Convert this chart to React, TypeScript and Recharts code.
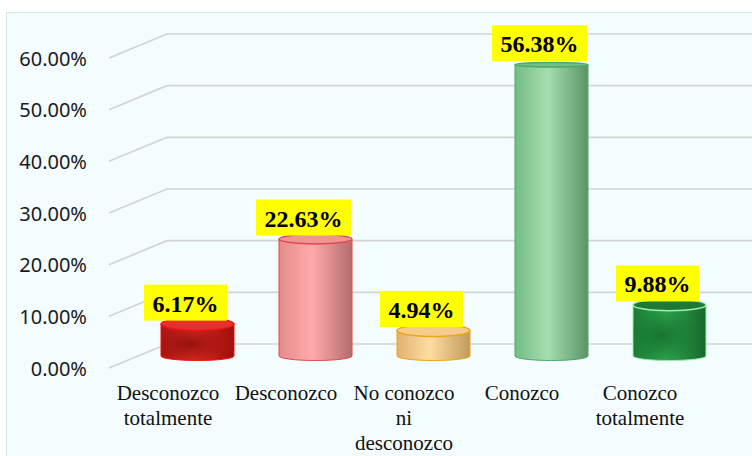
import { BarChart, Bar, XAxis, YAxis, CartesianGrid, LabelList } from 'recharts'

const categories = ['Desconozco\ntotalmente', 'Desconozco', 'No conozco\nni\ndesconozco', 'Conozco', 'Conozco\ntotalmente']
const values = [0.0617, 0.2263, 0.0494, 0.5638, 0.0988]
const yTicks = [0, 0.1, 0.2, 0.3, 0.4, 0.5, 0.6]

// cylinder looks: body gradient left/mid/right, top ellipse, rim
const STYLES = [
  { left: '#B01410', mid: '#D92A22', right: '#A00E0B', top: '#E3322B', stroke: '#F01510', spot: '#8E100C' },
  { left: '#E58A8A', mid: '#FFABAB', right: '#B56C6C', top: '#EE9696', stroke: '#E04A4A', spot: '' },
  { left: '#E2B070', mid: '#FDDDA2', right: '#C39A5A', top: '#F6CB8E', stroke: '#E8A810', spot: '' },
  { left: '#74BC84', mid: '#A6DDB0', right: '#5A9465', top: '#74C084', stroke: '#48AA6A', spot: '' },
  { left: '#1A7C36', mid: '#2FA84E', right: '#16672D', top: '#1B7A36', stroke: '#A6EAB0', spot: '#146E2E' },
]

const data = categories.map((name, i) => ({ name, value: values[i] }))

// offset between the front edge of the floor and the middle where the bars stand
const DX = 29
const DY = 12

const pct = (v: number) => (v * 100).toFixed(2) + '%'

function GridLine(props: any) {
  const { x1, x2, y1 } = props
  return (
    <path
      key={props.key ?? `g-${y1}`}
      d={`M ${x1} ${y1 + DY} L ${x1 + 2 * DX} ${y1 - DY} L ${x2 + 80} ${y1 - DY}`}
      fill="none"
      stroke="#D3D3D3"
      strokeWidth={1.6}
    />
  )
}

function Cylinder(props: any) {
  const { x, y, width, height, index } = props
  const s = STYLES[index % STYLES.length]
  const left = x + DX
  const right = left + width
  const base = y + height
  const rx = width / 2
  const cx = left + rx
  const ryTop = 2 + 4.5 * Math.min(1, Math.max(0, (y - 46) / 310))
  const ryBot = 4.5
  const gid = `cyl-${index}`
  return (
    <g>
      <defs>
        <linearGradient id={`${gid}-b`} x1="0" x2="1" y1="0" y2="0">
          <stop offset="0%" stopColor={s.left} />
          <stop offset="45%" stopColor={s.mid} />
          <stop offset="100%" stopColor={s.right} />
        </linearGradient>
        <radialGradient id={`${gid}-r`} cx="0.4" cy="0.55" r="0.5">
          <stop offset="0%" stopColor={s.spot || '#000'} stopOpacity={s.spot ? 0.9 : 0} />
          <stop offset="100%" stopColor={s.spot || '#000'} stopOpacity={0} />
        </radialGradient>
      </defs>
      <path
        d={`M ${left} ${y} L ${left} ${base} A ${rx} ${ryBot} 0 0 0 ${right} ${base} L ${right} ${y} Z`}
        fill={`url(#${gid}-b)`}
        stroke={s.stroke}
        strokeWidth={1}
      />
      {s.spot && (
        <path
          d={`M ${left} ${y} L ${left} ${base} A ${rx} ${ryBot} 0 0 0 ${right} ${base} L ${right} ${y} Z`}
          fill={`url(#${gid}-r)`}
        />
      )}
      <ellipse cx={cx} cy={y} rx={rx} ry={ryTop} fill={s.top} stroke={s.stroke} strokeWidth={1.5} />
    </g>
  )
}

function ValueLabel(props: any) {
  const { x, y, width, value } = props
  const text = pct(value)
  let w = 0
  for (const ch of text) w += ch === '.' ? 6 : ch === '%' ? 24 : 12
  const boxW = w + 17
  const cx = x + width / 2 + DX - 12
  const bottom = y - 3.5
  return (
    <g>
      <rect x={cx - boxW / 2} y={bottom - 36} width={boxW} height={36} fill="#FFFF00" />
      <text
        x={cx}
        y={bottom - 9}
        textAnchor="middle"
        fontFamily="'Liberation Serif', 'Times New Roman', serif"
        fontWeight="bold"
        fontSize={24}
        fill="#000"
      >
        {text}
      </text>
    </g>
  )
}

function CategoryTick(props: any) {
  const { x, y, payload } = props
  const lines = String(payload.value).split('\n')
  return (
    <text
      textAnchor="middle"
      fontFamily="'Liberation Serif', 'Times New Roman', serif"
      fontSize={21}
      fill="#111"
    >
      {lines.map((l, i) => (
        <tspan key={i} x={x} y={y + 44 + i * 25}>
          {l}
        </tspan>
      ))}
    </text>
  )
}

function PercentTick(props: any) {
  const { x, y, payload } = props
  return (
    <text
      x={x}
      y={y + DY}
      textAnchor="end"
      dominantBaseline="central"
      fontFamily="'Noto Sans', sans-serif"
      fontSize={20}
      fill="#1a1a1a"
    >
      {pct(payload.value)}
    </text>
  )
}

export default function App() {
  return (
    <div style={{ position: 'absolute', left: 0, top: 0, width: 752, height: 456, overflow: 'hidden' }}>
      <div
        style={{
          position: 'absolute',
          left: 6,
          top: 12,
          width: 760,
          height: 460,
          background: '#F3FCFE',
          border: '1px solid #DCE2E2',
        }}
      />
      <div style={{ position: 'absolute', left: 0, top: 0 }}>
        <BarChart width={752} height={456} data={data} margin={{ top: 46, right: 53, left: 9, bottom: 40 }} barSize={73}>
          <CartesianGrid vertical={false} horizontal={GridLine} />
          <XAxis
            dataKey="name"
            height={60}
            axisLine={false}
            tickLine={false}
            tickSize={0}
            tickMargin={0}
            interval={0}
            tick={CategoryTick}
          />
          <YAxis
            width={100}
            domain={[0, 0.6]}
            ticks={yTicks}
            axisLine={false}
            tickLine={false}
            tickSize={0}
            tickMargin={22}
            tick={PercentTick}
          />
          <Bar dataKey="value" shape={Cylinder} isAnimationActive={false}>
            <LabelList dataKey="value" content={ValueLabel} />
          </Bar>
        </BarChart>
      </div>
    </div>
  )
}
